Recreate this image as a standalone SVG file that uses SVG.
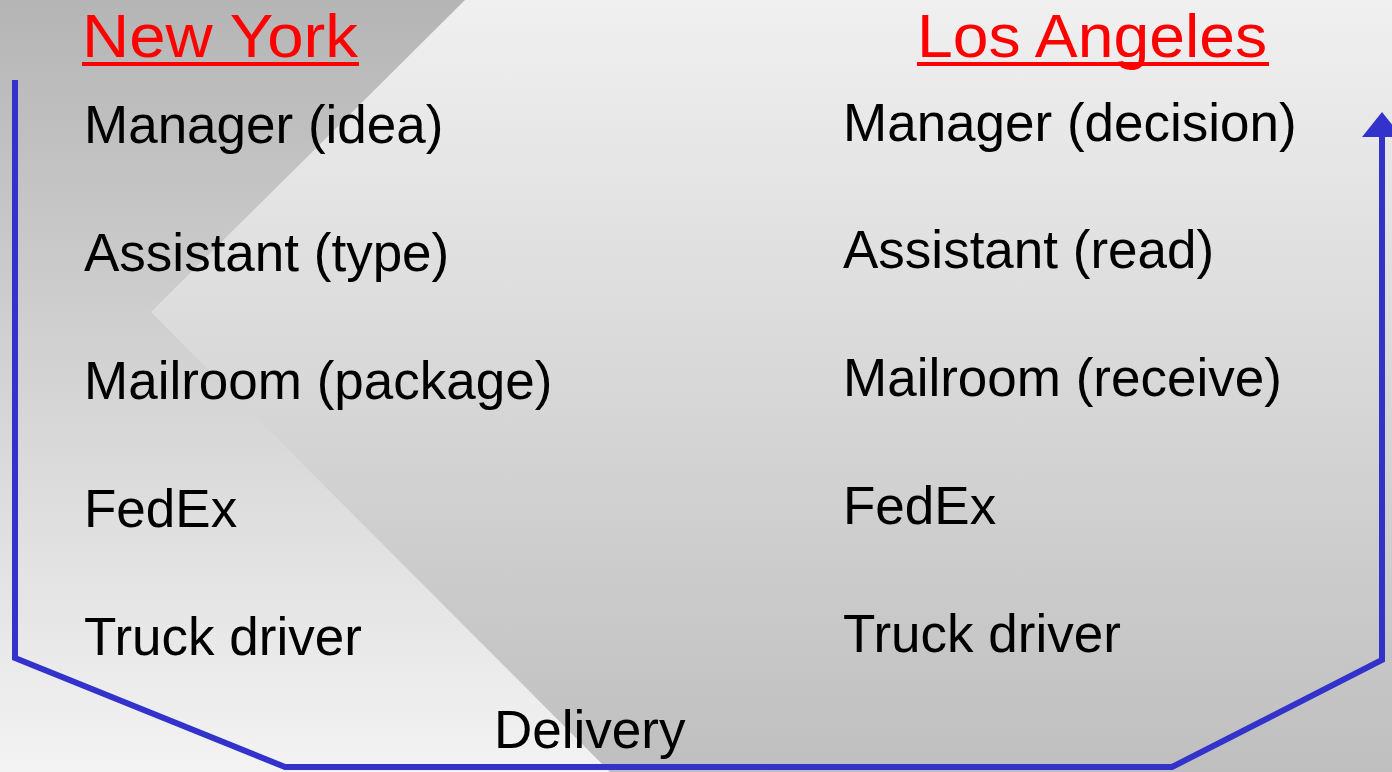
<svg xmlns="http://www.w3.org/2000/svg" width="1392" height="772" viewBox="0 0 1392 772">
<defs>
<linearGradient id="gA" x1="0" y1="0" x2="0" y2="1">
<stop offset="0" stop-color="#f0f0f0"/>
<stop offset="1" stop-color="#bfbfbf"/>
</linearGradient>
<linearGradient id="gB" x1="0" y1="0" x2="0" y2="1">
<stop offset="0" stop-color="#b5b5b5"/>
<stop offset="1" stop-color="#f3f3f3"/>
</linearGradient>
<style>
.t{font-family:"Liberation Sans",Arial,sans-serif;font-size:53px;fill:#000}
.h{font-family:"Liberation Sans",Arial,sans-serif;font-size:62px;fill:#ff0000}
.u{stroke:#ff0000;stroke-width:4}
.c{fill:none;stroke:#3333cc;stroke-width:6;stroke-linejoin:miter}
</style>
</defs>
<g id="background">
<rect x="0" y="0" width="1392" height="772" fill="url(#gA)"/>
<polygon points="0,0 465,0 151,312 610,772 0,772" fill="url(#gB)"/>
</g>
<g id="connectors">
<polyline class="c" points="15,80 15,658 285,767 1172,767 1382,660 1382,134"/>
<polygon points="1382,112 1362,137 1402,137" fill="#3333cc"/>
</g>
<g id="new-york">
<text class="h" x="82" y="57" textLength="276" lengthAdjust="spacingAndGlyphs">New York</text>
<line class="u" x1="82" y1="64" x2="359" y2="64"/>
</g>
<g id="los-angeles">
<text class="h" x="917" y="57" textLength="350" lengthAdjust="spacingAndGlyphs">Los Angeles</text>
<line class="u" x1="917" y1="64" x2="1269" y2="64"/>
</g>
<g id="ny-manager"><text class="t" x="84" y="143">Manager (idea)</text></g>
<g id="ny-assistant"><text class="t" x="84" y="271">Assistant (type)</text></g>
<g id="ny-mailroom"><text class="t" x="84" y="399">Mailroom (package)</text></g>
<g id="ny-fedex"><text class="t" x="84" y="527">FedEx</text></g>
<g id="ny-truck"><text class="t" x="84" y="655">Truck driver</text></g>
<g id="la-manager"><text class="t" x="843" y="141">Manager (decision)</text></g>
<g id="la-assistant"><text class="t" x="843" y="268">Assistant (read)</text></g>
<g id="la-mailroom"><text class="t" x="843" y="396">Mailroom (receive)</text></g>
<g id="la-fedex"><text class="t" x="843" y="524">FedEx</text></g>
<g id="la-truck"><text class="t" x="843" y="652">Truck driver</text></g>
<g id="delivery"><text class="t" x="494" y="748">Delivery</text></g>
</svg>
